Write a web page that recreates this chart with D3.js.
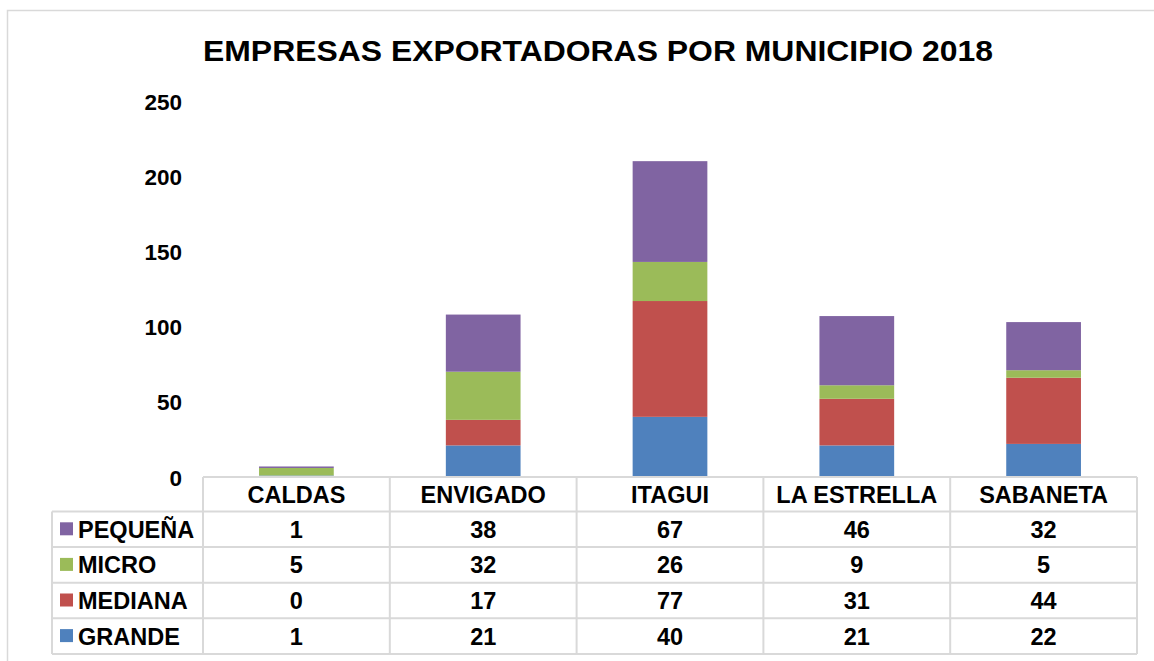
<!DOCTYPE html>
<html>
<head>
<meta charset="utf-8">
<script src="https://cdn.jsdelivr.net/npm/d3@7"></script>
<style>
  body { margin: 0; background: #fff; overflow: hidden; }
  text { font-family: "Liberation Sans", Arial, sans-serif; font-weight: bold; fill: #000; }
</style>
</head>
<body>
<script>
// datos
var municipios = ["CALDAS", "ENVIGADO", "ITAGUI", "LA ESTRELLA", "SABANETA"]
var tamanos = ["GRANDE", "MEDIANA", "MICRO", "PEQUEÑA"]   // orden de apilado (de abajo hacia arriba)
var grande  = [1, 21, 40, 21, 22]
var mediana = [0, 17, 77, 31, 44]
var micro   = [5, 32, 26, 9, 5]
var pequena = [1, 38, 67, 46, 32]
var ticksY = [0, 50, 100, 150, 200, 250]
var colores = ["#4F81BD", "#C0504D", "#9BBB59", "#8064A2"]

var valores = { "GRANDE": grande, "MEDIANA": mediana, "MICRO": micro, "PEQUEÑA": pequena }
var filas = municipios.map((m, i) => {
  var f = { municipio: m }
  tamanos.forEach(t => f[t] = valores[t][i])
  return f
})

var W = 1154, H = 661
var svg = d3.select("body").append("svg").attr("width", W).attr("height", H).style("display", "block")

// borde exterior (sale por la derecha y por abajo)
svg.append("rect")
  .attr("x", 7.5).attr("y", 10.5).attr("width", 1200).attr("height", 700)
  .attr("fill", "none").attr("stroke", "#D9D9D9").attr("stroke-width", 1.5)

// titulo
svg.append("text")
  .attr("x", 598).attr("y", 61)
  .attr("text-anchor", "middle")
  .attr("textLength", 790).attr("lengthAdjust", "spacingAndGlyphs")
  .style("font-size", "29px")
  .text("EMPRESAS EXPORTADORAS POR MUNICIPIO 2018")

// escalas
var x = d3.scaleBand().domain(municipios).range([203, 1137]).paddingInner(0).paddingOuter(0)
var y = d3.scaleLinear().domain([0, 250]).range([477, 101])
var color = d3.scaleOrdinal().domain(tamanos).range(colores)

// eje y (sin linea)
var ejeY = svg.append("g")
  .attr("transform", "translate(182,0)")
  .call(d3.axisLeft(y).tickValues(ticksY).tickSize(0).tickPadding(0))
ejeY.select(".domain").remove()
ejeY.selectAll("text").style("font-size", "22.5px").style("font-family", "Liberation Sans, Arial, sans-serif").attr("dy", "0.36em")

// barras apiladas
var pila = d3.stack().keys(tamanos)(filas)
var anchoBarra = x.bandwidth() * 0.4
svg.append("g")
  .selectAll("g")
  .data(pila)
  .enter()
  .append("g")
  .attr("fill", d => color(d.key))
  .selectAll("rect")
  .data(d => d)
  .enter()
  .append("rect")
  .attr("x", d => x(d.data.municipio) + (x.bandwidth() - anchoBarra) / 2)
  .attr("width", anchoBarra)
  .attr("y", d => y(d[1]))
  .attr("height", d => y(d[0]) - y(d[1]))

// tabla de datos
var lineaColor = "#D9D9D9"
var topTabla = y(0)
var altoCab = 34.5
var altoFila = 35.6
var xLeyenda = 52
var tabla = svg.append("g")
var ordenFilas = tamanos.slice().reverse()   // PEQUEÑA arriba
var finTabla = topTabla + altoCab + altoFila * ordenFilas.length

// lineas horizontales
tabla.append("line")
  .attr("x1", x.range()[0]).attr("x2", x.range()[1])
  .attr("y1", topTabla).attr("y2", topTabla)
  .attr("stroke", lineaColor).attr("stroke-width", 2)
d3.range(ordenFilas.length + 1).forEach(i => {
  var yy = topTabla + altoCab + altoFila * i
  tabla.append("line")
    .attr("x1", xLeyenda).attr("x2", x.range()[1])
    .attr("y1", yy).attr("y2", yy)
    .attr("stroke", lineaColor).attr("stroke-width", 2)
})
// lineas verticales
tabla.append("line")
  .attr("x1", xLeyenda).attr("x2", xLeyenda)
  .attr("y1", topTabla + altoCab).attr("y2", finTabla)
  .attr("stroke", lineaColor).attr("stroke-width", 2)
municipios.concat([null]).forEach((m, i) => {
  var xx = m ? x(m) : x.range()[1]
  tabla.append("line")
    .attr("x1", xx).attr("x2", xx)
    .attr("y1", topTabla).attr("y2", finTabla)
    .attr("stroke", lineaColor).attr("stroke-width", 2)
})

// cabecera
tabla.selectAll("text.cab")
  .data(municipios)
  .enter()
  .append("text")
  .attr("class", "cab")
  .attr("x", d => x(d) + x.bandwidth() / 2)
  .attr("y", topTabla + altoCab / 2)
  .attr("dy", "0.36em")
  .attr("text-anchor", "middle")
  .style("font-size", "23.5px")
  .text(d => d)

// filas
ordenFilas.forEach((t, i) => {
  var yc = topTabla + altoCab + altoFila * i + altoFila / 2
  tabla.append("rect")
    .attr("x", 60).attr("y", yc - 7)
    .attr("width", 13).attr("height", 13)
    .attr("fill", color(t))
  tabla.append("text")
    .attr("x", 78).attr("y", yc).attr("dy", "0.36em")
    .style("font-size", "23.5px")
    .text(t)
  tabla.selectAll(null)
    .data(valores[t])
    .enter()
    .append("text")
    .attr("x", (d, j) => x(municipios[j]) + x.bandwidth() / 2)
    .attr("y", yc).attr("dy", "0.36em")
    .attr("text-anchor", "middle")
    .style("font-size", "23.5px")
    .text(d => d)
})
</script>
</body>
</html>
